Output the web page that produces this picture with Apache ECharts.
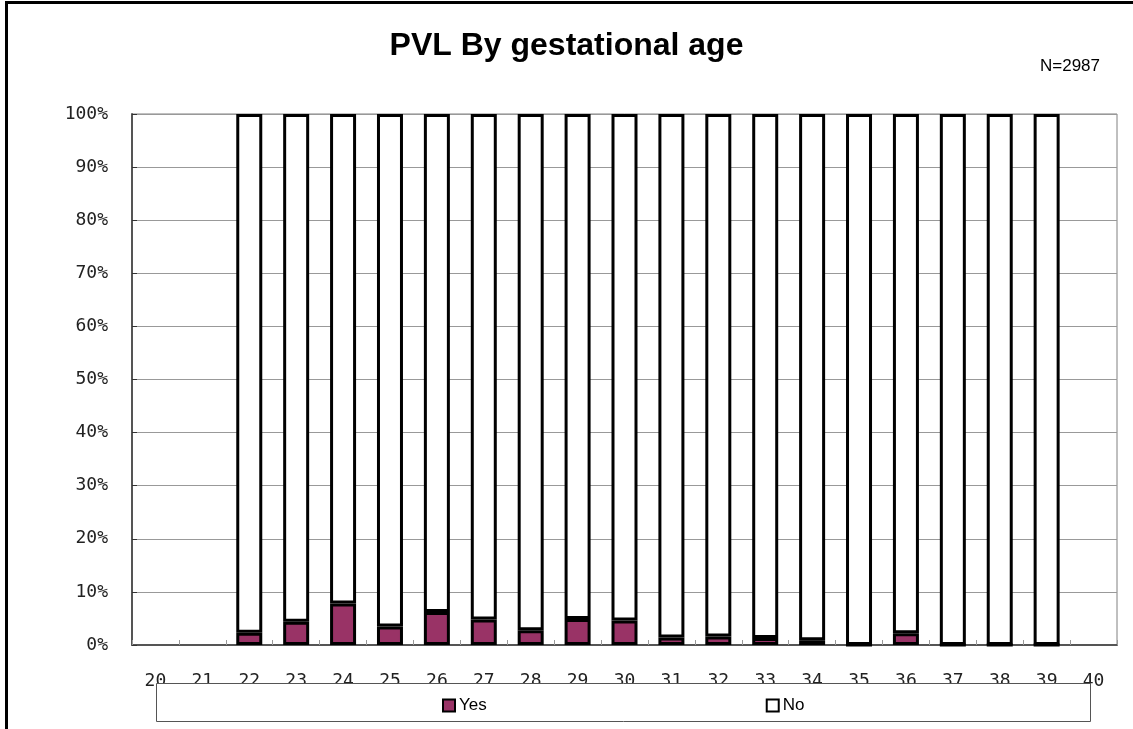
<!DOCTYPE html>
<html>
<head>
<meta charset="utf-8">
<script src="https://cdn.jsdelivr.net/npm/echarts@6/dist/echarts.min.js"></script>
<style>
html,body{margin:0;padding:0;background:#fff;}
#chart{width:1133px;height:729px;}
</style>
</head>
<body>
<div id="chart"></div>
<script>
var categories = ['20','21','22','23','24','25','26','27','28','29','30','31','32','33','34','35','36','37','38','39','40'];
var yesPct = [null, null, 2.3, 4.4, 7.8, 3.5, 6.2, 4.8, 2.8, 4.9, 4.6, 1.4, 1.6, 1.3, 0.9, 0, 2.2, 0, 0, 0, null];
var noPct  = [null, null, 97.7, 95.6, 92.2, 96.5, 93.8, 95.2, 97.2, 95.1, 95.4, 98.6, 98.4, 98.7, 99.1, 100, 97.8, 100, 100, 100, null];
var titleText = 'PVL By gestational age';
var nText = 'N=2987';
var seriesNames = ['Yes', 'No'];

var chart = echarts.init(document.getElementById('chart'), null, {renderer: 'canvas'});
var monoFont = '"DejaVu Sans Mono", monospace';
var sansFont = '"Liberation Sans", Arial, sans-serif';

var option = {
  backgroundColor: '#fff',
  animation: false,
  title: [
    {text: titleText, left: 'center', top: 30, padding: 0,
     textStyle: {fontFamily: sansFont, fontWeight: 'bold', fontSize: 32, color: '#000'}},
    {text: nText, right: 33, top: 58, padding: 0,
     textStyle: {fontFamily: sansFont, fontWeight: 'normal', fontSize: 17, color: '#000'}}
  ],
  grid: {left: 132, right: 16, top: 114, bottom: 84, show: true, borderColor: '#808080', borderWidth: 1, backgroundColor: '#fff'},
  legend: {
    data: seriesNames, left: 442, top: 697, padding: 0, itemGap: 279,
    itemWidth: 12, itemHeight: 12, icon: 'rect', z: 20,
    itemStyle: {borderColor: '#000', borderWidth: 2},
    textStyle: {fontFamily: sansFont, fontSize: 17, color: '#000', padding: [0,0,0,-1]}
  },
  graphic: [
    {type: 'rect', z: 10, shape: {x: 156.5, y: 683.5, width: 934, height: 38},
     style: {fill: '#fff', stroke: '#555', lineWidth: 1}},
    {type: 'line', z: 10, shape: {x1: 5, y1: 2.5, x2: 1133, y2: 2.5}, style: {stroke: '#000', lineWidth: 3}},
    {type: 'line', z: 10, shape: {x1: 6.5, y1: 1, x2: 6.5, y2: 729}, style: {stroke: '#000', lineWidth: 3}}
  ],
  xAxis: {
    type: 'category', data: categories, boundaryGap: true,
    axisLine: {lineStyle: {color: '#555', width: 2}},
    axisTick: {show: true, inside: true, length: 5, alignWithLabel: false, lineStyle: {color: '#999', width: 1}},
    axisLabel: {margin: 27, fontFamily: monoFont, fontSize: 18, color: '#222', interval: 0},
    splitLine: {show: false}
  },
  yAxis: {
    type: 'value', min: 0, max: 100, interval: 10,
    axisLine: {show: true, lineStyle: {color: '#555', width: 2}},
    axisTick: {show: true, inside: true, length: 5, lineStyle: {color: '#333', width: 1}},
    axisLabel: {margin: 24, formatter: '{value}%', fontFamily: monoFont, fontSize: 18, color: '#222'},
    splitLine: {show: true, lineStyle: {color: '#999', width: 1}}
  },
  series: [
    {name: seriesNames[0], type: 'bar', stack: 'pct', data: yesPct, barWidth: 26,
     itemStyle: {color: '#993366', borderColor: '#000', borderWidth: 3}},
    {name: seriesNames[1], type: 'bar', stack: 'pct', data: noPct, barWidth: 26,
     itemStyle: {color: '#ffffff', borderColor: '#000', borderWidth: 3}}
  ]
};
chart.setOption(option);
</script>
</body>
</html>
